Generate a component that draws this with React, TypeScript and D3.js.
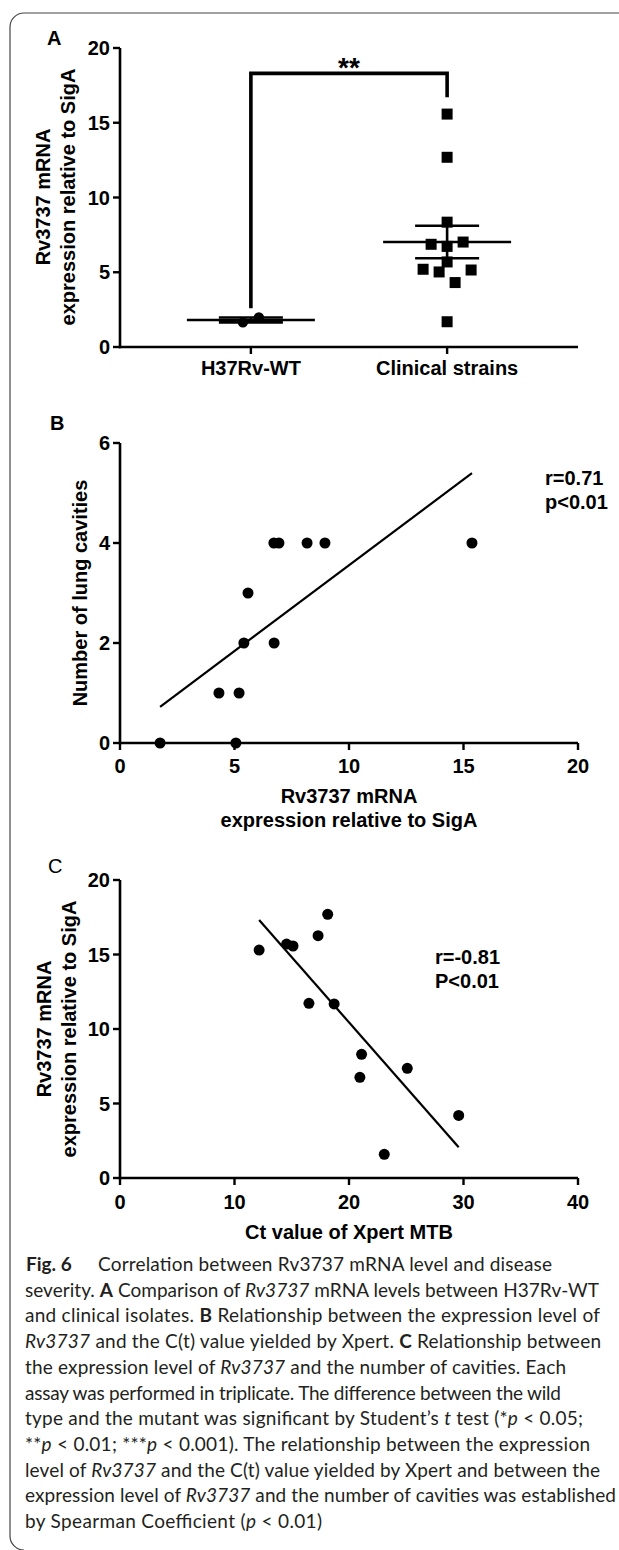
import * as d3 from 'd3';

// Panel A: Rv3737 expression by group
const groupNames = ['H37Rv-WT', 'Clinical strains'];
const wtExpression = [1.65, 1.97];
const clinicalExpression = [15.58, 12.69, 8.35, 6.87, 6.73, 7.02, 5.69, 5.2, 5.02, 4.31, 5.15, 1.69];
const ticksA = [0, 5, 10, 15, 20];

// Panel B: expression vs number of lung cavities
const cavityExpression = [1.75, 5.06, 4.32, 5.2, 5.41, 6.73, 5.59, 6.72, 6.94, 8.17, 8.95, 15.37];
const cavityCount = [0, 0, 1, 1, 2, 2, 3, 4, 4, 4, 4, 4];
const ticksBx = [0, 5, 10, 15, 20];
const ticksBy = [0, 2, 4, 6];

// Panel C: Ct value vs expression
const ctValue = [12.15, 14.55, 15.11, 16.5, 18.14, 17.3, 18.7, 21.1, 20.95, 25.09, 29.58, 23.08];
const ctExpression = [15.3, 15.7, 15.57, 11.72, 17.7, 16.26, 11.68, 8.3, 6.76, 7.36, 4.2, 1.59];
const ticksCx = [0, 10, 20, 30, 40];
const ticksCy = [0, 5, 10, 15, 20];

type Seg = [string, string?];
const caption: Seg[][] = [
  [['Correlation between Rv3737 mRNA level and disease']],
  [['severity. '], ['A', 'b'], [' Comparison of '], ['Rv3737', 'i'], [' mRNA levels between H37Rv-WT']],
  [['and clinical isolates. '], ['B', 'b'], [' Relationship between the expression level of']],
  [['Rv3737', 'i'], [' and the C(t) value yielded by Xpert. '], ['C', 'b'], [' Relationship between']],
  [['the expression level of '], ['Rv3737', 'i'], [' and the number of cavities. Each']],
  [['assay was performed in triplicate. The difference between the wild']],
  [['type and the mutant was significant by Student\u2019s '], ['t', 'i'], [' test (*'], ['p', 'i'], [' < 0.05;']],
  [['**'], ['p', 'i'], [' < 0.01; ***'], ['p', 'i'], [' < 0.001). The relationship between the expression']],
  [['level of '], ['Rv3737', 'i'], [' and the C(t) value yielded by Xpert and between the']],
  [['expression level of '], ['Rv3737', 'i'], [' and the number of cavities was established']],
  [['by Spearman Coefficient ('], ['p', 'i'], [' < 0.01)']],
];
const captionWidths = [454, 574, 575, 576, 541, 536, 558, 565, 575, 591, 297];

const FONT = "'Liberation Sans', Arial, sans-serif";
const AX_L = 120;
const AX_R = 578;

// simple column scatter: points within 14px of each other share a row and spread sideways
function spread(values: number[], y: (v: number) => number, step: number) {
  const order = values.map((v, i) => i).sort((a, b) => values[a] - values[b]);
  const rows: number[][] = [];
  order.forEach((i) => {
    const row = rows[rows.length - 1];
    if (row && Math.abs(y(values[row[0]]) - y(values[i])) < 14) row.push(i);
    else rows.push([i]);
  });
  const off = new Array(values.length).fill(0);
  rows.forEach((row) => {
    row.sort((a, b) => a - b);
    row.forEach((i, k) => (off[i] = (k - (row.length - 1) / 2) * step));
  });
  return off;
}

function fit(xs: number[], ys: number[]) {
  const mx = d3.mean(xs)!;
  const my = d3.mean(ys)!;
  const sxy = d3.sum(xs, (x, i) => (x - mx) * (ys[i] - my));
  const sxx = d3.sum(xs, (x) => (x - mx) ** 2);
  const slope = sxy / sxx;
  const x0 = d3.min(xs)!;
  const x1 = d3.max(xs)!;
  return [
    [x0, my + slope * (x0 - mx)],
    [x1, my + slope * (x1 - mx)],
  ];
}

function YAxis({ y, ticks }: { y: d3.ScaleLinear<number, number>; ticks: number[] }) {
  const [b, t] = y.range();
  return (
    <g>
      <line x1={AX_L} x2={AX_L} y1={b + 1.2} y2={t} stroke="#000" strokeWidth={2.6} />
      {ticks.map((v) => (
        <g key={v}>
          <line x1={AX_L - 7} x2={AX_L} y1={y(v)} y2={y(v)} stroke="#000" strokeWidth={2.4} />
          <text x={AX_L - 10} y={y(v)} dy="0.36em" textAnchor="end" fontSize={20} fontWeight="bold">
            {v}
          </text>
        </g>
      ))}
    </g>
  );
}

function XAxis({ x, ticks, y0, gap }: { x: d3.ScaleLinear<number, number>; ticks: number[]; y0: number; gap: number }) {
  return (
    <g>
      <line x1={AX_L - 1.2} x2={AX_R} y1={y0} y2={y0} stroke="#000" strokeWidth={2.6} />
      {ticks.map((v) => (
        <g key={v}>
          <line x1={x(v)} x2={x(v)} y1={y0} y2={y0 + 7} stroke="#000" strokeWidth={2.4} />
          <text x={x(v)} y={y0 + gap} textAnchor="middle" fontSize={20} fontWeight="bold">
            {v}
          </text>
        </g>
      ))}
    </g>
  );
}

function YTitle({ lines, cy, xs }: { lines: string[]; cy: number; xs: number[] }) {
  return (
    <g>
      {lines.map((l, i) => (
        <text key={l} transform={`translate(${xs[i]},${cy}) rotate(-90)`} textAnchor="middle" fontSize={20} fontWeight="bold">
          {l}
        </text>
      ))}
    </g>
  );
}

function PanelA() {
  const y = d3.scaleLinear().domain([0, 20]).range([347, 48]);
  const x = d3.scalePoint<string>().domain(groupNames).range([AX_L, AX_R]).padding(0.667);
  const groups = [wtExpression, clinicalExpression];
  const xWT = x(groupNames[0])!;
  const xCl = x(groupNames[1])!;
  const line = d3.line();
  const bracket = line([
    [xWT, y(2.6)],
    [xWT, y(18.3)],
    [xCl, y(18.3)],
    [xCl, y(16.7)],
  ]);
  return (
    <g>
      <text x={47} y={45} fontSize={20} fontWeight="bold">A</text>
      <YTitle lines={['Rv3737 mRNA', 'expression relative to SigA']} cy={197} xs={[50, 75]} />
      <YAxis y={y} ticks={ticksA} />
      <line x1={AX_L - 1.2} x2={AX_R} y1={y(0)} y2={y(0)} stroke="#000" strokeWidth={2.6} />
      {groupNames.map((g) => (
        <g key={g}>
          <line x1={x(g)} x2={x(g)} y1={y(0)} y2={y(0) + 7} stroke="#000" strokeWidth={2.4} />
          <text x={x(g)} y={375} textAnchor="middle" fontSize={20} fontWeight="bold">{g}</text>
        </g>
      ))}
      <path d={bracket!} fill="none" stroke="#000" strokeWidth={3.6} />
      <text x={(xWT + xCl) / 2} y={77} textAnchor="middle" fontSize={28} fontWeight="bold">**</text>
      {groups.map((vals, gi) => {
        const cx = x(groupNames[gi])!;
        const off = spread(vals, y, 16);
        const m = d3.mean(vals)!;
        const sem = d3.deviation(vals)! / Math.sqrt(vals.length);
        return (
          <g key={gi}>
            {vals.map((v, i) =>
              gi === 0 ? (
                <circle key={i} cx={cx + off[i]} cy={y(v)} r={5.2} fill="#000" />
              ) : (
                <rect key={i} x={cx + off[i] - 5.5} y={y(v) - 5.5} width={11} height={11} fill="#000" />
              )
            )}
            <line x1={cx - 64} x2={cx + 64} y1={y(m)} y2={y(m)} stroke="#000" strokeWidth={2.6} />
            <line x1={cx} x2={cx} y1={y(m + sem)} y2={y(m - sem)} stroke="#000" strokeWidth={2.6} />
            <line x1={cx - 32} x2={cx + 32} y1={y(m + sem)} y2={y(m + sem)} stroke="#000" strokeWidth={2.6} />
            <line x1={cx - 32} x2={cx + 32} y1={y(m - sem)} y2={y(m - sem)} stroke="#000" strokeWidth={2.6} />
          </g>
        );
      })}
    </g>
  );
}

function PanelB() {
  const x = d3.scaleLinear().domain([0, 20]).range([AX_L, AX_R]);
  const y = d3.scaleLinear().domain([0, 6]).range([743, 443]);
  const f = fit(cavityExpression, cavityCount);
  const line = d3.line().x((d) => x(d[0])).y((d) => y(d[1]));
  return (
    <g>
      <text x={50} y={430} fontSize={20} fontWeight="bold">B</text>
      <YTitle lines={['Number of lung cavities']} cy={593} xs={[87]} />
      <path d={line(f as [number, number][])!} fill="none" stroke="#000" strokeWidth={2.2} />
      <YAxis y={y} ticks={ticksBy} />
      <XAxis x={x} ticks={ticksBx} y0={y(0)} gap={30} />
      {cavityExpression.map((v, i) => (
        <circle key={i} cx={x(v)} cy={y(cavityCount[i])} r={5.5} fill="#000" />
      ))}
      <text x={545} y={485} fontSize={20} fontWeight="bold">r=0.71</text>
      <text x={545} y={509} fontSize={20} fontWeight="bold">p&lt;0.01</text>
      <text x={(AX_L + AX_R) / 2} y={803} textAnchor="middle" fontSize={20} fontWeight="bold">Rv3737 mRNA</text>
      <text x={(AX_L + AX_R) / 2} y={827} textAnchor="middle" fontSize={20} fontWeight="bold">expression relative to SigA</text>
    </g>
  );
}

function PanelC() {
  const x = d3.scaleLinear().domain([0, 40]).range([AX_L, AX_R]);
  const y = d3.scaleLinear().domain([0, 20]).range([1178, 880]);
  const f = fit(ctValue, ctExpression);
  const line = d3.line().x((d) => x(d[0])).y((d) => y(d[1]));
  return (
    <g>
      <text x={48} y={873} fontSize={20}>C</text>
      <YTitle lines={['Rv3737 mRNA', 'expression relative to SigA']} cy={1029} xs={[51, 76]} />
      <path d={line(f as [number, number][])!} fill="none" stroke="#000" strokeWidth={2.2} />
      <YAxis y={y} ticks={ticksCy} />
      <XAxis x={x} ticks={ticksCx} y0={y(0)} gap={31} />
      {ctValue.map((v, i) => (
        <circle key={i} cx={x(v)} cy={y(ctExpression[i])} r={5.5} fill="#000" />
      ))}
      <text x={435} y={964} fontSize={20} fontWeight="bold">r=-0.81</text>
      <text x={435} y={988} fontSize={20} fontWeight="bold">P&lt;0.01</text>
      <text x={(AX_L + AX_R) / 2} y={1239} textAnchor="middle" fontSize={20} fontWeight="bold">Ct value of Xpert MTB</text>
    </g>
  );
}

function Caption() {
  return (
    <g fontFamily="Lato, 'Open Sans', sans-serif" fontSize={19} fill="#231f20">
      <text x={26} y={1271} fontWeight="bold">Fig. 6</text>
      {caption.map((segs, li) => (
        <text
          key={li}
          x={li === 0 ? 98 : 25}
          y={1271 + li * 25.7}
          textLength={captionWidths[li]}
          lengthAdjust="spacing"
        >
          {segs.map(([t, s], si) => (
            <tspan key={si} fontWeight={s === 'b' ? 'bold' : undefined} fontStyle={s === 'i' ? 'italic' : undefined}>
              {t}
            </tspan>
          ))}
        </text>
      ))}
    </g>
  );
}

export default function App() {
  return (
    <svg
      width={619}
      height={1550}
      style={{ position: 'absolute', left: 0, top: 0, background: '#fff' }}
      fontFamily={FONT}
    >
      <path d="M619,13 H24 A14,14 0 0 0 10,27 V1536 A14,14 0 0 0 24,1550" fill="none" stroke="#444" strokeWidth={1.2} />
      <PanelA />
      <PanelB />
      <PanelC />
      <Caption />
    </svg>
  );
}
